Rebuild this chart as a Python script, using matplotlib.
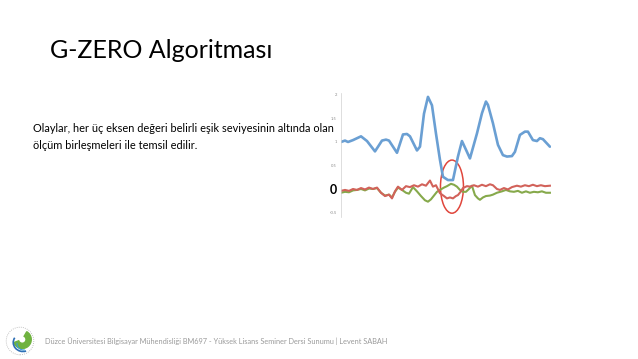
import matplotlib
matplotlib.use("Agg")
import matplotlib.pyplot as plt
from matplotlib.patches import Ellipse, Arc, Wedge, Circle

# sample positions (arbitrary time units) and values
blue_t = [0, 4, 7, 12, 20, 26, 34, 41, 45, 48, 56, 62, 66, 69, 76, 79, 83, 87,
          91, 95, 99, 102, 107, 112, 117, 121, 126, 129, 136, 141, 145, 147,
          152, 157, 162, 166, 171, 174, 179, 184, 187, 192, 196, 199, 202, 209]
blue_v = [1.00, 1.03, 1.00, 1.04, 1.12, 1.02, 0.80, 1.03, 1.05, 1.03, 0.77, 1.16,
          1.17, 1.12, 0.82, 0.90, 1.60, 1.96, 1.78, 1.18, 0.62, 0.26, 0.19, 0.19,
          0.69, 1.02, 0.79, 0.65, 1.18, 1.61, 1.86, 1.79, 1.40, 0.94, 0.72, 0.69,
          0.70, 0.79, 1.15, 1.22, 1.22, 1.04, 1.02, 1.08, 1.06, 0.90]

red_t = [0, 4, 8, 12, 16, 20, 24, 28, 32, 36, 40, 44, 48, 51, 54, 57, 61, 65,
         69, 73, 77, 81, 85, 89, 92, 95, 99, 103, 106, 109, 112, 115, 117, 120,
         122, 126, 129, 133, 137, 141, 145, 149, 152, 156, 159, 163, 167, 171,
         176, 180, 184, 188, 192, 196, 200, 204, 209]
red_v = [-0.04, -0.02, -0.04, 0.00, -0.02, 0.02, -0.01, 0.03, 0.00, 0.03, -0.08,
         -0.15, -0.12, -0.20, -0.05, 0.05, -0.02, 0.06, 0.04, 0.08, 0.05, 0.10,
         0.07, 0.18, 0.05, 0.08, -0.09, -0.15, -0.20, -0.18, -0.20, -0.15, -0.13,
         -0.05, 0.02, 0.06, 0.05, 0.08, 0.05, 0.09, 0.06, 0.10, 0.08, 0.00, -0.02,
         0.02, -0.01, 0.04, 0.07, 0.05, 0.08, 0.06, 0.09, 0.06, 0.08, 0.06, 0.07]

green_t = [0, 4, 8, 12, 16, 20, 24, 28, 32, 36, 40, 44, 48, 51, 54, 57, 61, 65,
           68, 72, 76, 80, 84, 87, 90, 93, 96, 99, 103, 106, 110, 113, 116, 119,
           122, 125, 128, 131, 134, 137, 139, 142, 145, 149, 152, 156, 161, 165,
           169, 173, 177, 181, 185, 189, 193, 197, 201, 205, 209]
green_v = [-0.08, -0.06, -0.07, -0.03, -0.02, 0.00, -0.03, 0.01, 0.00, 0.02,
           -0.08, -0.14, -0.12, -0.18, -0.06, 0.03, -0.02, -0.08, -0.10, 0.04,
           -0.05, -0.15, -0.24, -0.27, -0.22, -0.14, -0.06, -0.02, 0.03, 0.06,
           0.11, 0.09, 0.05, -0.02, -0.06, -0.06, 0.00, 0.07, -0.13, -0.20,
           -0.23, -0.18, -0.15, -0.14, -0.12, -0.08, -0.05, -0.02, -0.05, -0.06,
           -0.04, -0.08, -0.05, -0.08, -0.06, -0.07, -0.05, -0.08, -0.08]

y_ticks = [2, 1.5, 1, 0.5, 0, -0.5]
y_labels = ["2", "1.5", "1", "0.5", "0", "-0.5"]

title = "G-ZERO Algoritması"
body = ("Olaylar, her üç eksen değeri belirli eşik seviyesinin altında olan\n"
        "ölçüm birleşmeleri ile temsil edilir.")
footer = ("Düzce Üniversitesi Bilgisayar Mühendisliği BM697 - Yüksek Lisans "
          "Seminer Dersi Sunumu | Levent SABAH")

plt.rcParams["font.family"] = ["Lato", "DejaVu Sans"]

fig = plt.figure(figsize=(6.38, 3.59), dpi=100)
fig.patch.set_facecolor("white")

# small chart picture on the right
ax = fig.add_axes([0.5345, 0.395, 0.329, 0.347])
ax.plot(blue_t, blue_v, color="#6a9fd3", lw=1.9, solid_capstyle="round")
ax.plot(green_t, green_v, color="#86a94b", lw=1.5)
ax.plot(red_t, red_v, color="#d2625a", lw=1.5)
ax.add_patch(Ellipse((111, 0.05), 23, 1.13, fill=False, edgecolor="#e0463c", lw=1.1))
ax.set_xlim(0, 210)
ax.set_ylim(-0.6, 2.05)
for s in ["top", "right", "bottom"]:
    ax.spines[s].set_visible(False)
ax.spines["left"].set_color("#d0d0d0")
ax.spines["left"].set_linewidth(0.5)
ax.set_xticks([])
ax.set_yticks(y_ticks)
ax.set_yticklabels(y_labels)
ax.tick_params(axis="y", length=0, pad=3, labelsize=3, labelcolor="#888888")
for lbl in ax.get_yticklabels():
    if lbl.get_text() == "0":
        lbl.set_fontsize(9)
        lbl.set_fontweight("bold")
        lbl.set_color("black")
ax.patch.set_alpha(0)

fig.text(50 / 638, 1 - 51 / 359, title, fontsize=18, va="center", ha="left", color="black")
fig.text(33 / 638, 1 - 137 / 359, body, fontsize=7.9, va="center", ha="left",
         color="black", linespacing=1.6)
fig.text(45 / 638, 1 - 341 / 359, footer, fontsize=5.3, va="center", ha="left", color="#9a9a9a")

# simple university logo
lax = fig.add_axes([5 / 638, 1 - 356 / 359, 30 / 638, 30 / 359])
lax.set_xlim(-1, 1)
lax.set_ylim(-1, 1)
lax.set_aspect("equal")
lax.axis("off")
lax.add_patch(Circle((0, 0), 0.92, fill=False, edgecolor="#b0b0b0", lw=0.6, ls=(0, (1, 1.5))))
lax.add_patch(Wedge((0.15, 0.1), 0.6, 200, 60, width=0.35, color="#6fb23f"))
lax.add_patch(Arc((0.2, -0.1), 1.3, 1.2, theta1=150, theta2=290, color="#2f6fb5", lw=1.2))
lax.add_patch(Arc((0.25, -0.2), 0.9, 0.8, theta1=170, theta2=280, color="#3a9ad9", lw=0.8))

fig.savefig("out.png", dpi=100, facecolor="white")
